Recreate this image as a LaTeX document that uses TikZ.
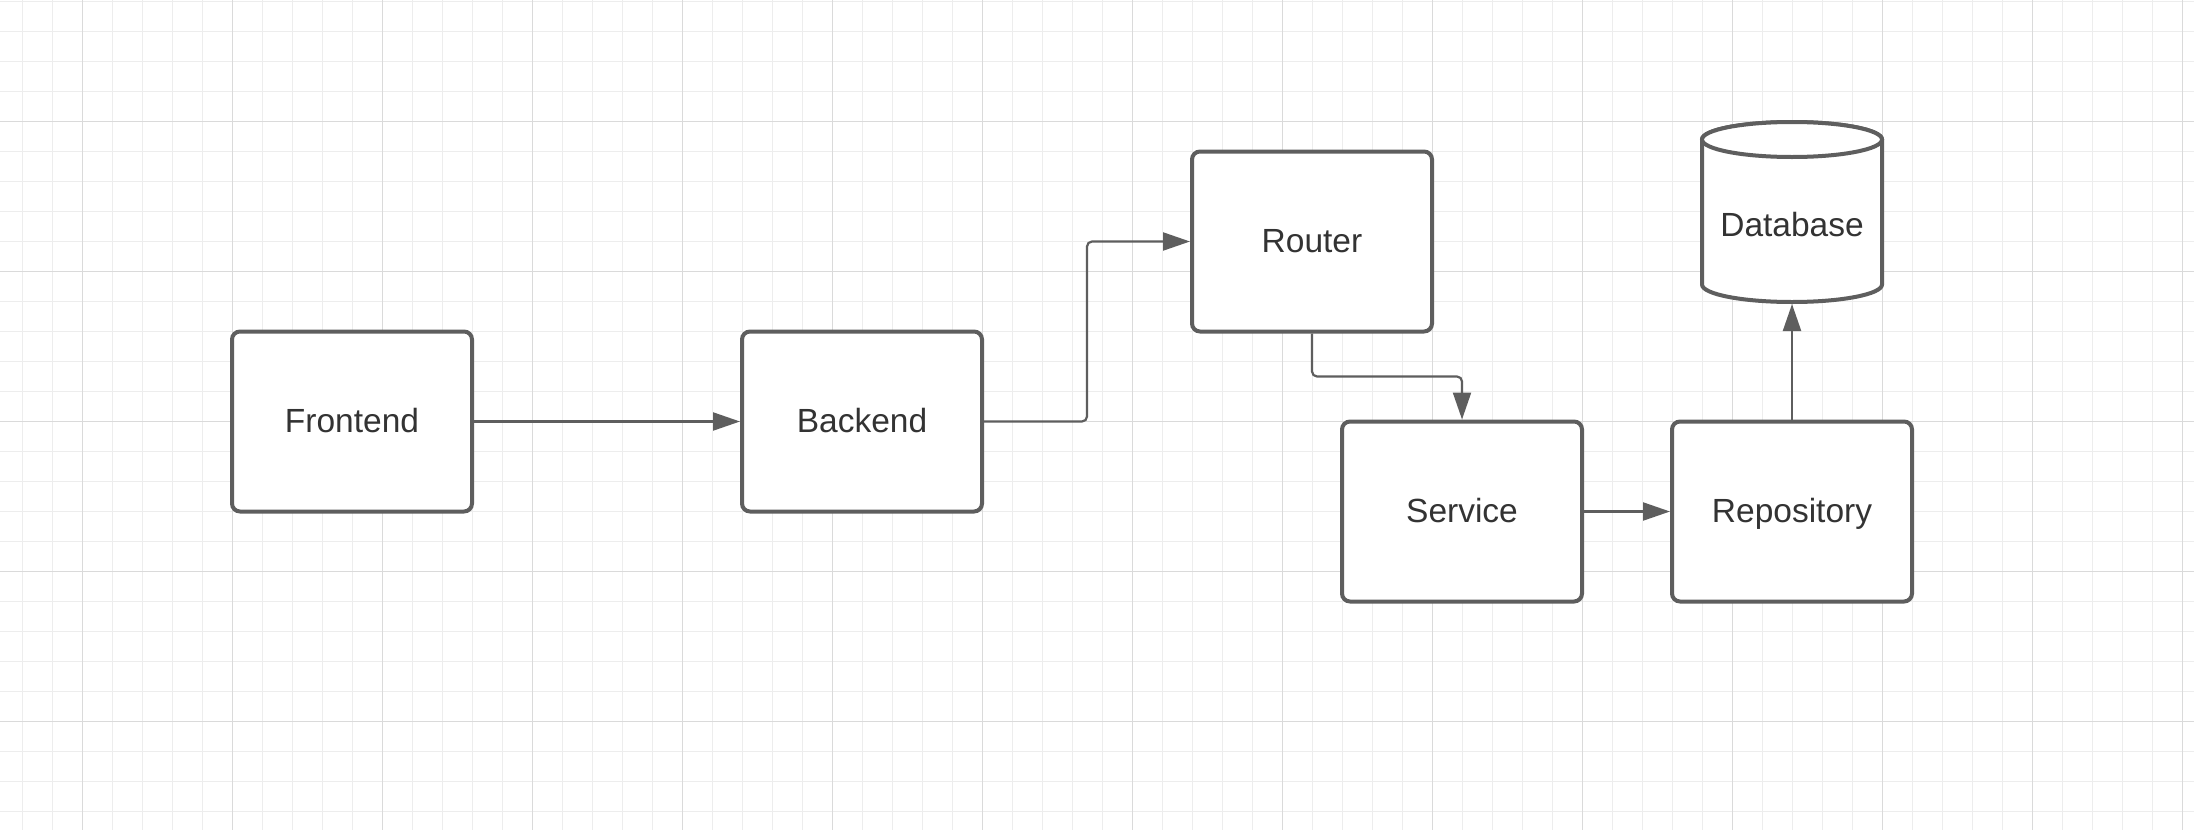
\documentclass[tikz,border=0pt]{standalone}
\usepackage{fontspec}
\setmainfont{Liberation Sans}
\usetikzlibrary{arrows.meta,calc}
\definecolor{strokec}{HTML}{5E5E5E}
\definecolor{txtc}{HTML}{333333}
\definecolor{gridminor}{HTML}{EDEDED}
\definecolor{gridmajor}{HTML}{DADADA}
\begin{document}
\begin{tikzpicture}[x=1pt,y=-1pt,
  box/.style={draw=strokec, line width=4pt, fill=white, rounded corners=8pt,
    minimum width=240pt, minimum height=180pt, inner sep=0pt,
    font=\fontsize{33.5}{40}\selectfont, text=txtc, text height=24pt, text depth=3pt},
  dbnode/.style={minimum width=184pt, minimum height=160pt, inner sep=0pt, outer sep=0pt,
    font=\fontsize{33.5}{40}\selectfont, text=txtc, text height=24pt, text depth=0pt},
  conn/.style={draw=strokec, line width=2.2pt, rounded corners=5pt,
    -{Triangle[length=27pt,width=18pt]}},
  cyl/.style={draw=strokec, line width=4pt, fill=white},
  minorline/.style={draw=gridminor, line width=1pt},
  majorline/.style={draw=gridmajor, line width=1pt}
]
\useasboundingbox (0,0) rectangle (2194,830);
\fill[white] (0,0) rectangle (2194,830);
% grid
\foreach \x in {22.5,52.5,...,2192.5} \draw[minorline] (\x,0) -- (\x,830);
\foreach \y in {1.5,31.5,...,829.5} \draw[minorline] (0,\y) -- (2194,\y);
\foreach \x in {82.5,232.5,...,2182.5} \draw[majorline] (\x,0) -- (\x,830);
\foreach \y in {121.5,271.5,...,721.5} \draw[majorline] (0,\y) -- (2194,\y);

% boxes
\node[box] (frontend) at (352,421.5) {Frontend};
\node[box] (backend) at (862,421.5) {Backend};
\node[box] (router) at (1312,241.5) {Router};
\node[box] (service) at (1462,511.5) {Service};
\node[box] (repo) at (1792,511.5) {Repository};

% database cylinder
\path[cyl] (1702,139.5) -- (1702,284.5)
  arc[start angle=180, end angle=0, x radius=90, y radius=17.5]
  -- (1882,139.5)
  arc[start angle=360, end angle=180, x radius=90, y radius=17.5] -- cycle;
\draw[cyl] (1792,139.5) ellipse[x radius=90, y radius=17.5];
\node[dbnode] (db) at (1792,224) {Database};

% connectors
\draw[conn] (frontend.east) -- (backend.west);
\draw[conn] (backend.east) -- ++(103,0) |- (router.west);
\draw[conn] (router.south) -- ++(0,43) -| (service.north);
\draw[conn] (service.east) -- (repo.west);
\draw[conn] (repo.north) -- (db.south);
\end{tikzpicture}
\end{document}
